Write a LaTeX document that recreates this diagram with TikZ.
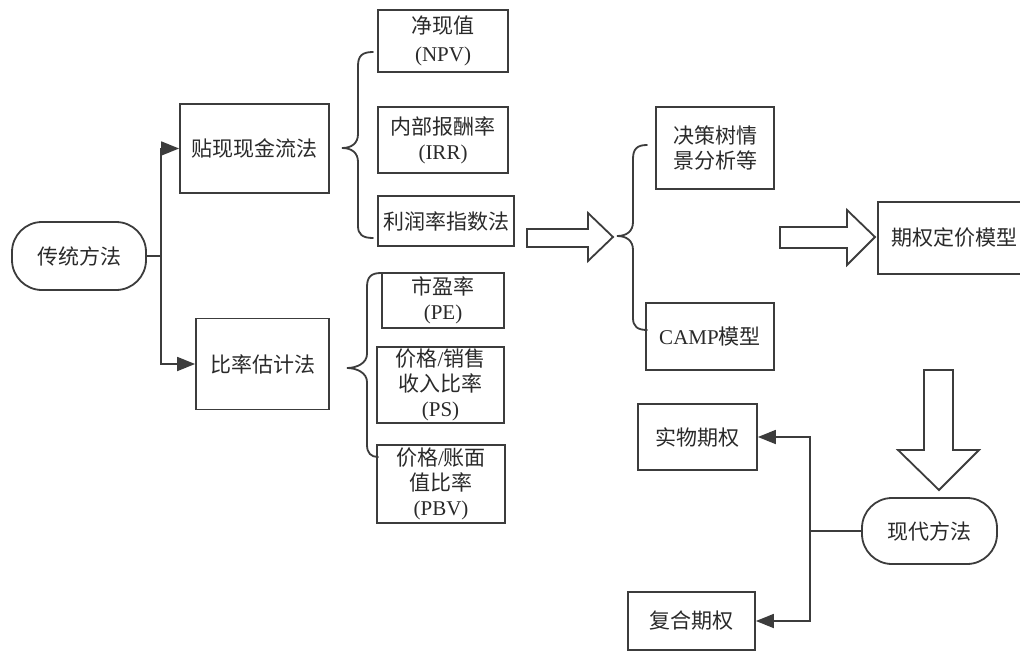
\documentclass[tikz,border=0pt]{standalone}
\usepackage{fontspec}
\setmainfont{Liberation Serif}
\newfontfamily\cjk{Noto Sans CJK SC}
\usetikzlibrary{arrows.meta}
\newcommand{\zh}[1]{{\cjk #1}}
\definecolor{ln}{HTML}{3C3C3C}
\definecolor{tx}{HTML}{2A2A2A}
\tikzset{
  box/.style={draw=ln, line width=1.8pt, align=center, inner sep=0pt, text=tx,
    font=\fontsize{21}{25}\selectfont},
  pill/.style={box, rounded corners=30pt},
  conn/.style={draw=ln, line width=1.8pt},
  arr/.style={conn, -{Triangle[length=18pt,width=14pt]}},
  brace/.style={draw=ln, line width=1.8pt, line cap=round},
  hollow/.style={draw=ln, line width=1.8pt, fill=white, line join=miter}
}
\begin{document}
\begin{tikzpicture}[x=1pt,y=-1pt]
\clip (0,0) rectangle (1020,653);
\fill[white] (0,0) rectangle (1020,653);

% left part
\node[pill, minimum width=134pt, minimum height=68pt] (trad) at (79,256) {\zh{传统方法}};
\node[box, minimum width=149pt, minimum height=89pt] (dcf) at (254.5,148.5) {\zh{贴现现金流法}};
\node[box, minimum width=133pt, minimum height=91pt] (ratio) at (262.5,364) {\zh{比率估计法}};

\node[box, minimum width=130pt, minimum height=62pt] (npv) at (443,41) {\zh{净现值}\\[3pt](NPV)};
\node[box, minimum width=130pt, minimum height=66pt] (irr) at (443,140) {\zh{内部报酬率}\\(IRR)};
\node[box, minimum width=136pt, minimum height=50pt] (pi) at (446,221) {\zh{利润率指数法}};

\node[box, minimum width=122pt, minimum height=55pt] (pe) at (443,300.5) {\zh{市盈率}\\(PE)};
\node[box, minimum width=127pt, minimum height=76pt] (ps) at (440.5,385) {\zh{价格}/\zh{销售}\\\zh{收入比率}\\(PS)};
\node[box, minimum width=128pt, minimum height=78pt] (pbv) at (441,484) {\zh{价格}/\zh{账面}\\\zh{值比率}\\(PBV)};

% middle
\node[box, minimum width=118pt, minimum height=82pt] (dt) at (715,148) {\zh{决策树情}\\\zh{景分析等}};
\node[box, minimum width=128pt, minimum height=67pt] (camp) at (710,336.5) {CAMP\zh{模型}};

% right
\node[box, minimum width=152pt, minimum height=72pt] (opm) at (954,238) {\zh{期权定价模型}};
\node[pill, minimum width=135pt, minimum height=66pt] (modern) at (929.5,531) {\zh{现代方法}};
\node[box, minimum width=119pt, minimum height=66pt] (real) at (697.5,437) {\zh{实物期权}};
\node[box, minimum width=127pt, minimum height=58pt] (comp) at (691.5,621) {\zh{复合期权}};

% connectors left
\coordinate (j1) at (161,256);
\draw[conn] (trad.east) -- (j1);
\draw[arr] (j1) |- (dcf.west);
\draw[arr] (j1) |- (ratio.west);

% connectors right
\coordinate (j2) at (810,531);
\draw[conn] (modern.west) -- (j2);
\draw[arr] (j2) |- (real.east);
\draw[arr] (j2) |- (comp.east);

% braces
\draw[brace] (373,52) .. controls (362,52) and (358,56) .. (358,66) -- (358,134)
  .. controls (358,143) and (352,148) .. (342,148)
  .. controls (352,148) and (358,153) .. (358,162) -- (358,226)
  .. controls (358,234) and (362,238) .. (373,238);
\draw[brace] (381,273) .. controls (371,273) and (367,277) .. (367,287) -- (367,354)
  .. controls (367,363) and (357,368) .. (347,368)
  .. controls (357,368) and (367,373) .. (367,382) -- (367,445)
  .. controls (367,453) and (371,457) .. (378,457);
\draw[brace] (647,145) .. controls (637,145) and (633,149) .. (633,159) -- (633,222)
  .. controls (633,231) and (627,236) .. (617,236)
  .. controls (627,236) and (633,241) .. (633,250) -- (633,318)
  .. controls (633,326) and (637,330) .. (647,330);

% hollow arrows
\draw[hollow] (527,229) -- (588,229) -- (588,213) -- (613,237) -- (588,261) -- (588,247) -- (527,247) -- cycle;
\draw[hollow] (780,227) -- (847,227) -- (847,210) -- (875,237) -- (847,265) -- (847,248) -- (780,248) -- cycle;
\draw[hollow] (924,370) -- (953,370) -- (953,450) -- (979,450) -- (939,490) -- (898,450) -- (924,450) -- cycle;
\end{tikzpicture}
\end{document}
